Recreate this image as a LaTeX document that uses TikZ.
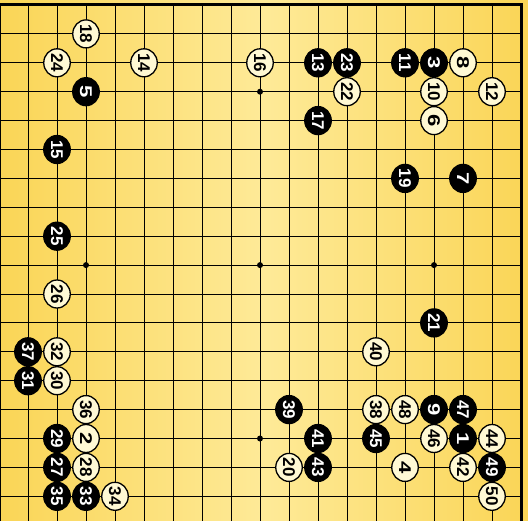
\documentclass[tikz,border=0pt]{standalone}
\usepackage{fontspec}
\newfontfamily\stonefont{Liberation Sans}
\usetikzlibrary{shapes.geometric}

\definecolor{boardedge}{RGB}{250,213,86}
\definecolor{boardmid}{RGB}{254,234,152}
\definecolor{whitefill}{RGB}{255,249,212}

% single digits are drawn wider than two digit numbers
\newcommand{\stonenum}[1]{\ifnum#1<10 \scalebox{1.3}[1]{#1}\else #1\fi}

\begin{document}
\begin{tikzpicture}[
            x=29pt, y=-28.9pt,
            gridline/.style={black, line width=0.9pt},
            edgeline/.style={black, line width=3pt},
            stone/.style={
                ellipse,
                draw=black,
                line width=1.3pt,
                inner sep=0pt,
                minimum width=28pt,
                minimum height=26.5pt,
                rotate=-90,
                font=\stonefont\bfseries\fontsize{17}{17}\selectfont
            },
            blackstone/.style={stone, fill=black, text=white},
            whitestone/.style={stone, fill=whitefill, text=black},
            hoshi/.style={circle, fill=black, inner sep=0pt, minimum size=6pt}
        ]

            \useasboundingbox (1.0345,0.827) rectangle (19.241,18.854);
            \clip (1.0345,0.827) rectangle (19.241,18.854);

            % board
            \shade[left color=boardedge, right color=boardedge, middle color=boardmid]
                (1.0345,0.827) rectangle (19.241,18.854);

            \foreach \i in {1,...,19} {
                \draw[gridline] (\i,1) -- (\i,19);
                \draw[gridline] (1,\i) -- (19,\i);
            }
            \draw[edgeline] (1,1) rectangle (19,19);

            \foreach \c/\r in {4/4,10/4,16/4,4/10,10/10,16/10,4/16,10/16,16/16}
                \node[hoshi] (hoshi-\c-\r) at (\c,\r) {};

            % black stones
            \foreach \c/\r/\n in {17/16/1, 16/3/3, 4/4/5, 17/7/7, 16/15/9,
                    15/3/11, 12/3/13, 3/6/15, 12/5/17, 15/7/19, 16/12/21,
                    13/3/23, 3/9/25, 3/17/27, 3/16/29, 2/14/31, 4/18/33,
                    3/18/35, 2/13/37, 11/15/39, 12/16/41, 12/17/43,
                    14/16/45, 17/15/47, 18/17/49}
                \node[blackstone] (m\n) at (\c,\r) {\stonenum{\n}};

            % white stones
            \foreach \c/\r/\n in {4/16/2, 15/17/4, 16/5/6, 17/3/8, 16/4/10,
                    18/4/12, 6/3/14, 10/3/16, 4/2/18, 11/17/20, 13/4/22,
                    3/3/24, 3/11/26, 4/17/28, 3/14/30, 3/13/32, 5/18/34,
                    4/15/36, 14/15/38, 14/13/40, 17/17/42, 18/16/44,
                    16/16/46, 15/15/48, 18/18/50}
                \node[whitestone] (m\n) at (\c,\r) {\stonenum{\n}};

        \end{tikzpicture}
\end{document}
